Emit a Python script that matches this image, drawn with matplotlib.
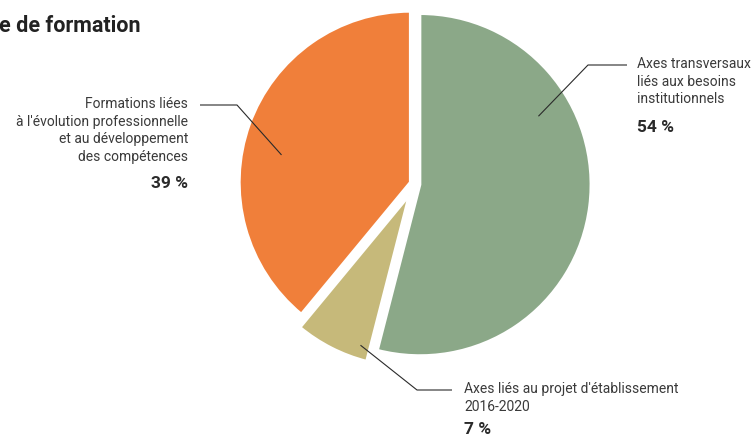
import numpy as np
import matplotlib
matplotlib.use("Agg")
import matplotlib.pyplot as plt

plt.rcParams['font.family'] = ['Roboto', 'DejaVu Sans']

# data
labels = ["Axes transversaux\nliés aux besoins\ninstitutionnels",
          "Axes liés au projet d'établissement\n2016-2020",
          "Formations liées\nà l'évolution professionnelle\net au développement\ndes compétences"]
values = [54, 7, 39]
colours = ["#8ba888", "#c6b97a", "#f07f3a"]
title = "e de formation"

W, H = 754, 438

def px(x, y):
    # picture pixel coords (y down) -> axes data coords (y up)
    return x, H - y

fig = plt.figure(figsize=(W / 100, H / 100), dpi=100)
ax = fig.add_axes([0, 0, 1, 1])

# explode is in data units here (pixels)
wedges, _ = ax.pie(values, colors=colours, startangle=90, counterclock=False,
                   explode=[5, 13, 5], radius=171, center=px(415, 184),
                   wedgeprops=dict(edgecolor="white", linewidth=2))
ax.set_xlim(0, W)
ax.set_ylim(0, H)
ax.set_aspect("equal")
ax.axis("off")

# label layout: anchor angle / radius fraction inside wedge, elbow, line end, text pos, align
layout = [
    dict(ang=30, frac=0.80, elbow=(588, 65), end=(627, 65), text=(637, 57), ha="left", pct=(637, 127)),
    dict(ang=-108, frac=0.92, elbow=(417, 390), end=(452, 390), text=(464, 382), ha="left", pct=(464, 430)),
    dict(ang=168, frac=0.77, elbow=(237, 105), end=(200, 105), text=(188, 97), ha="right", pct=(188, 184)),
]

for w, lab, v, lay in zip(wedges, labels, values, layout):
    cx, cy = w.center
    a = np.deg2rad(lay["ang"])
    ax0, ay0 = cx + w.r * lay["frac"] * np.cos(a), cy + w.r * lay["frac"] * np.sin(a)
    ex, ey = px(*lay["elbow"])
    nx, ny = px(*lay["end"])
    ax.plot([ax0, ex, nx], [ay0, ey, ny], color="#2a2a2a", lw=0.8, solid_capstyle="butt")
    tx, ty = px(*lay["text"])
    ax.text(tx, ty, lab, ha=lay["ha"], va="top", fontsize=10, color="#3a3a3a",
            linespacing=1.32, multialignment=lay["ha"])
    qx, qy = px(*lay["pct"])
    ax.text(qx, qy, f"{v} %", ha=lay["ha"], va="center", fontsize=12.5,
            fontweight="bold", color="#2a2a2a")

tx, ty = px(-1, 26)
ax.text(tx, ty, title, ha="left", va="center", fontsize=15.5, fontweight="bold", color="#222222")

fig.savefig("out.png", dpi=100)
